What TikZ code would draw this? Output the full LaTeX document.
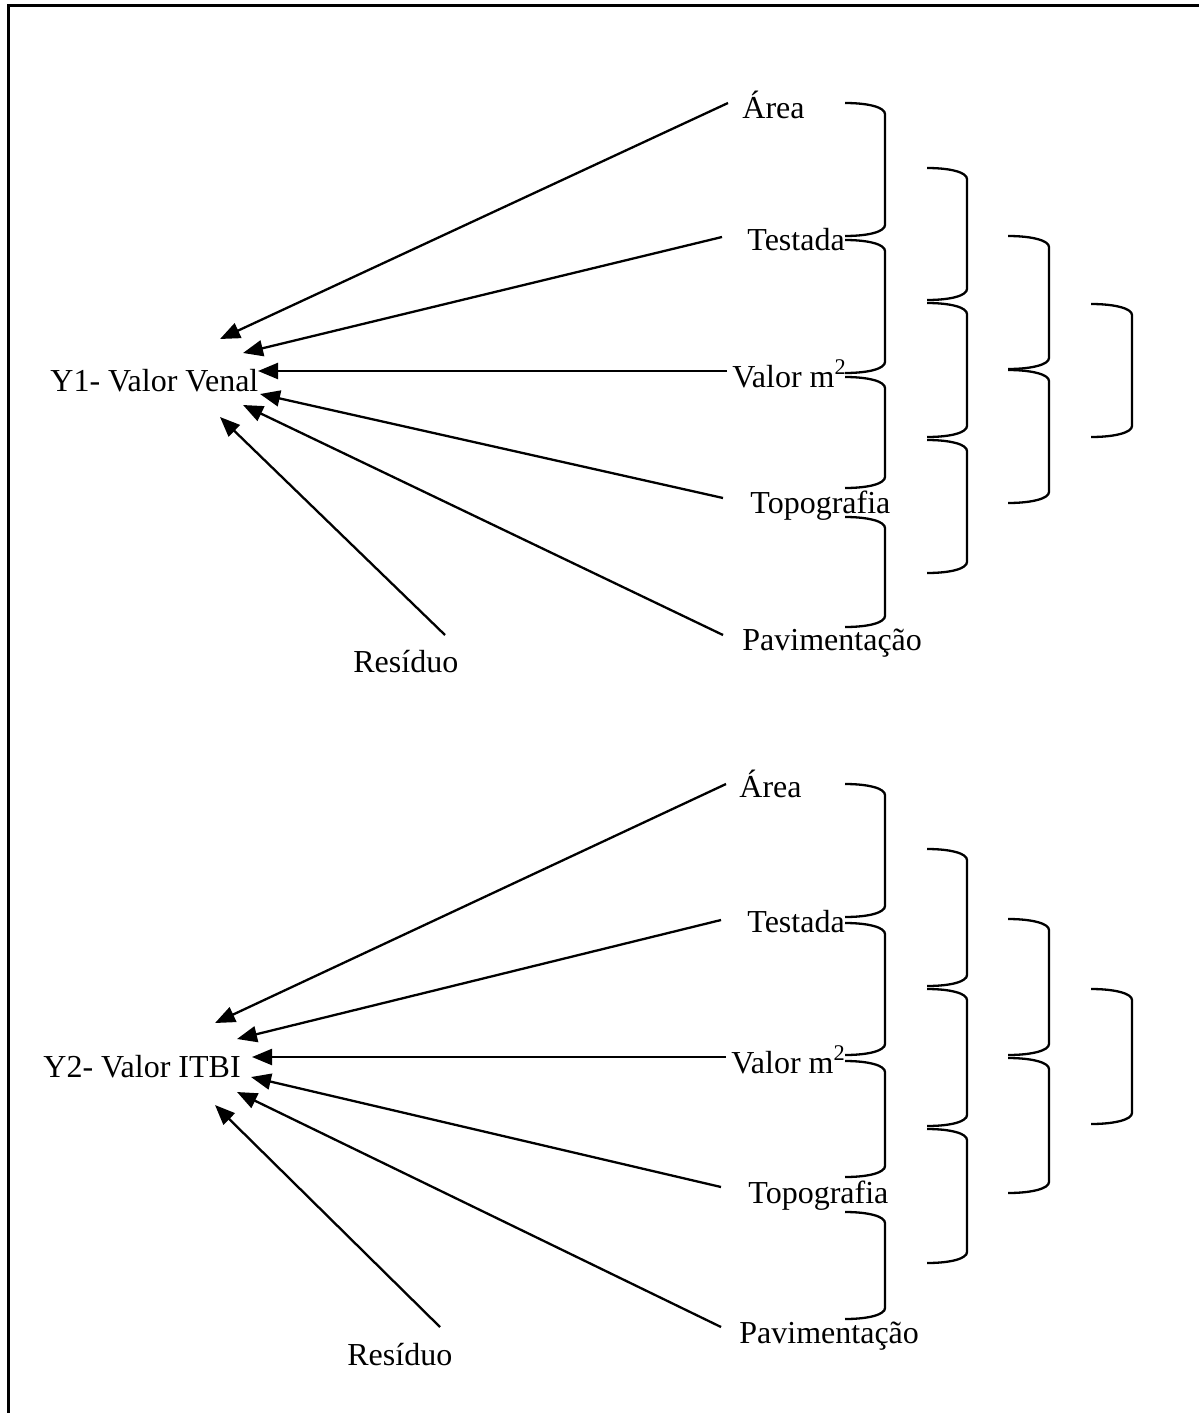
\documentclass[tikz,border=0pt]{standalone}
\usepackage{fontspec}
\setmainfont{Liberation Serif}
\usetikzlibrary{arrows.meta}

% right bracket with rounded corners: left x, right x, top y, bottom y
\newcommand\bracketR[4]{%
  \draw[brk] (#1,#3) .. controls ({#1+24},#3) and (#2,{#3+4.5}) .. (#2,{#3+11})
    -- (#2,{#4-11}) .. controls (#2,{#4-4.5}) and ({#1+24},#4) .. (#1,#4);}

\tikzset{
  lbl/.style={inner sep=0pt, anchor=base west, font=\fontsize{16}{19}\selectfont},
  arr/.style={line width=1.15pt, -{Triangle[length=10pt,width=8pt]}},
  brk/.style={line width=1.15pt},
  frame/.style={line width=1.5pt}
}

\begin{document}
\begin{tikzpicture}[x=0.5pt, y=-0.5pt]
\useasboundingbox (0,0) rectangle (1199,1413);

% frame
\draw[frame] (8,1413) -- (8,6) -- (1199,6);

% ---------- model Y1 ----------
\node[lbl] (y1) at (50,391) {Y1- Valor Venal};
\node[lbl] (a1) at (742,119) {Área};
\node[lbl] (t1) at (747,250) {Testada};
\node[lbl] (v1) at (732,387) {Valor m\textsuperscript{2}};
\node[lbl] (p1) at (750,513) {Topografia};
\node[lbl] (m1) at (742,650) {Pavimentação};
\node[lbl] (r1) at (353,672) {Resíduo};

\coordinate (a1s) at (728,103);  \coordinate (a1e) at (220,339);
\coordinate (t1s) at (722,237);  \coordinate (t1e) at (243,353);
\coordinate (v1s) at (727,371);  \coordinate (v1e) at (258,371);
\coordinate (p1s) at (723,498);  \coordinate (p1e) at (260,394);
\coordinate (m1s) at (723,635);  \coordinate (m1e) at (243,405);
\coordinate (r1s) at (445,635);  \coordinate (r1e) at (220,417);

\draw[arr] (a1s) -- (a1e);
\draw[arr] (t1s) -- (t1e);
\draw[arr] (v1s) -- (v1e);
\draw[arr] (p1s) -- (p1e);
\draw[arr] (m1s) -- (m1e);
\draw[arr] (r1s) -- (r1e);

\bracketR{845}{885}{103}{236}
\bracketR{845}{885}{240}{373}
\bracketR{845}{885}{377}{488}
\bracketR{845}{885}{517}{627}
\bracketR{927}{967}{168}{300}
\bracketR{927}{967}{303}{437}
\bracketR{927}{967}{440}{573}
\bracketR{1008}{1049}{236}{369}
\bracketR{1008}{1049}{370}{503}
\bracketR{1091}{1132}{304}{437}

% ---------- model Y2 ----------
\node[lbl] (y2) at (43,1077) {Y2- Valor ITBI};
\node[lbl] (a2) at (739,797) {Área};
\node[lbl] (t2) at (747,932) {Testada};
\node[lbl] (v2) at (731,1073) {Valor m\textsuperscript{2}};
\node[lbl] (p2) at (748,1203) {Topografia};
\node[lbl] (m2) at (739,1343) {Pavimentação};
\node[lbl] (r2) at (347,1365) {Resíduo};

\coordinate (a2s) at (726,784);   \coordinate (a2e) at (215,1023);
\coordinate (t2s) at (721,920);   \coordinate (t2e) at (237,1039);
\coordinate (v2s) at (726,1057);  \coordinate (v2e) at (252,1057);
\coordinate (p2s) at (721,1187);  \coordinate (p2e) at (251,1077);
\coordinate (m2s) at (721,1327);  \coordinate (m2e) at (237,1092);
\coordinate (r2s) at (440,1327);  \coordinate (r2e) at (215,1105);

\draw[arr] (a2s) -- (a2e);
\draw[arr] (t2s) -- (t2e);
\draw[arr] (v2s) -- (v2e);
\draw[arr] (p2s) -- (p2e);
\draw[arr] (m2s) -- (m2e);
\draw[arr] (r2s) -- (r2e);

\bracketR{845}{885}{784}{917}
\bracketR{845}{885}{923}{1055}
\bracketR{845}{885}{1061}{1177}
\bracketR{845}{885}{1212}{1319}
\bracketR{927}{967}{849}{986}
\bracketR{927}{967}{989}{1126}
\bracketR{927}{967}{1129}{1263}
\bracketR{1008}{1049}{919}{1055}
\bracketR{1008}{1049}{1058}{1193}
\bracketR{1091}{1132}{989}{1124}
\end{tikzpicture}
\end{document}
